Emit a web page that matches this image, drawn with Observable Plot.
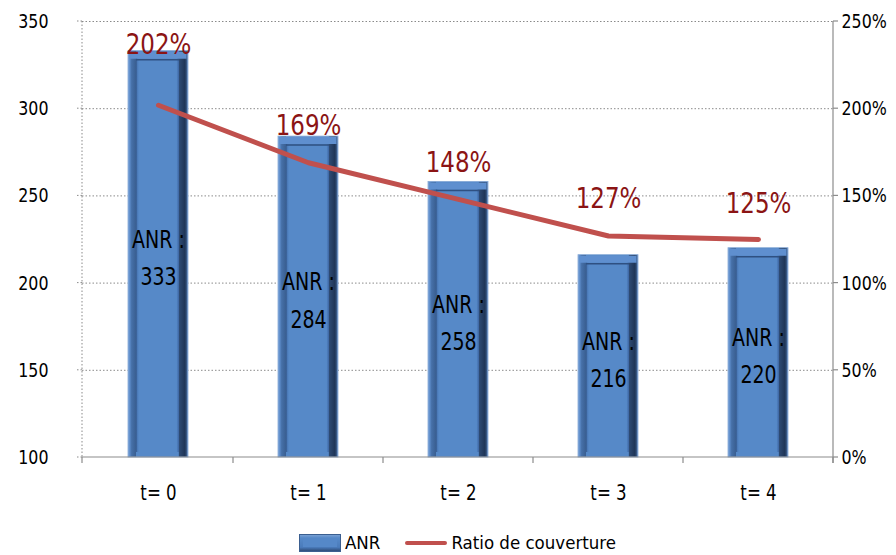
<!DOCTYPE html>
<html>
<head>
<meta charset="utf-8">
<script src="https://cdn.jsdelivr.net/npm/d3@7"></script>
<script src="https://cdn.jsdelivr.net/npm/@observablehq/plot@0.6"></script>
<style>
  html, body { margin: 0; padding: 0; background: #fff; }
  #chart { width: 896px; }
  .narrow { font-family: "DejaVu Sans Condensed", "DejaVu Sans", sans-serif; }
  #legend {
    display: flex; justify-content: center; align-items: center;
    box-sizing: border-box; height: 35px; padding: 10px 63px 0 82px;
    font-size: 18.5px; color: #000;
  }
  #legend .item { display: flex; align-items: center; }
  #legend svg { display: block; }
</style>
</head>
<body>
<div id="chart" class="narrow"></div>
<script>
// Periods, ANR values (left axis) and coverage ratio in % (right axis)
const categories = ["t= 0", "t= 1", "t= 2", "t= 3", "t= 4"];
const anrValues = [333, 284, 258, 216, 220];
const ratioValues = [202, 169, 148, 127, 125];
const leftTicks = [100, 150, 200, 250, 300, 350];
const rightTicks = [0, 50, 100, 150, 200, 250];

const FONT = '"DejaVu Sans Condensed", "DejaVu Sans", sans-serif';
const TEXT_SQUEEZE = 0.88; // horizontal compression of every chart label
const ANR_MIN = 100;
// right axis: 0% sits at 100 and 250% at 350 on the ANR scale
const ratioToAnr = p => ANR_MIN + p;

const rows = categories.map((t, i) => ({t, anr: anrValues[i], ratio: ratioValues[i]}));

// vertical lift of each percentage label above its line point (px)
const pctLift = [-61, -37, -37, -37, -36];

// axis lines, dotted left spine and category boundary ticks
function frameLines(index, scales, values, dims) {
  const {marginLeft, marginRight, width} = dims;
  const x0 = marginLeft, x1 = width - marginRight;
  const yb = scales.y(ANR_MIN), yt = scales.y(350);
  const starts = categories.map(c => scales.x(c));
  const step = starts[1] - starts[0];
  const bwRaw = scales.x.bandwidth;
  const bw = typeof bwRaw === "function" ? bwRaw() : (bwRaw ?? step * 0.4);
  const centers = starts.map(s => s + bw / 2);
  const bounds = [x0, ...centers.slice(1).map((c, i) => (c + centers[i]) / 2), x1];
  const g = d3.create("svg:g");
  g.append("line").attr("x1", x0).attr("x2", x0).attr("y1", yt).attr("y2", yb)
    .attr("stroke", "#8a8a8a").attr("stroke-dasharray", "1.5,2");
  for (const v of leftTicks) {
    g.append("line").attr("x1", x0 - 5).attr("x2", x0).attr("y1", scales.y(v)).attr("y2", scales.y(v))
      .attr("stroke", "#8a8a8a").attr("stroke-dasharray", "1.5,2");
  }
  g.append("line").attr("x1", x0).attr("x2", x1).attr("y1", yb).attr("y2", yb)
    .attr("stroke", "#8c8c8c").attr("stroke-width", 1.2);
  for (const b of bounds) {
    g.append("line").attr("x1", b).attr("x2", b).attr("y1", yb).attr("y2", yb + 6)
      .attr("stroke", "#8c8c8c").attr("stroke-width", 1.2);
  }
  g.append("line").attr("x1", x1).attr("x2", x1).attr("y1", yt).attr("y2", yb + 6)
    .attr("stroke", "#8c8c8c").attr("stroke-width", 1.2);
  for (const p of rightTicks) {
    const y = scales.y(ratioToAnr(p));
    g.append("line").attr("x1", x1).attr("x2", x1 + 5).attr("y1", y).attr("y2", y)
      .attr("stroke", "#8c8c8c").attr("stroke-width", 1.2);
  }
  return g.node();
}

const plot = Plot.plot({
  width: 896,
  height: 520,
  marginTop: 21,
  marginBottom: 63,
  marginLeft: 82,
  marginRight: 63,
  style: {fontFamily: FONT, background: "#fff", overflow: "visible"},
  x: {domain: categories, paddingInner: 0.6, paddingOuter: 0.3},
  y: {domain: [ANR_MIN, 350]},
  marks: [
    // dotted horizontal gridlines
    Plot.ruleY(leftTicks.slice(1), {stroke: "#8a8a8a", strokeDasharray: "1.5,2", strokeWidth: 1}),
    // bars: bevelled shell, lighter top bevel, then the face
    Plot.barY(rows, {x: "t", y1: () => ANR_MIN, y2: "anr", fill: "url(#barShell)", stroke: "#86a9d6", strokeWidth: 0.8}),
    Plot.tickY(rows, {x: "t", y: "anr", dy: 4, strokeWidth: 7, stroke: "#5f8fcf", insetLeft: 1.5, insetRight: 1.5}),
    Plot.barY(rows, {x: "t", y1: () => ANR_MIN, y2: "anr", insetLeft: 8, insetRight: 9, insetTop: 8, insetBottom: 5, fill: "url(#barFace)"}),
    Plot.tickY(rows, {x: "t", y: "anr", dy: 8.5, strokeWidth: 1.5, stroke: "#2f5081", insetLeft: 8, insetRight: 9}),
    frameLines,
    // coverage ratio line
    Plot.line(rows, {x: "t", y: d => ratioToAnr(d.ratio), stroke: "#C0504D", strokeWidth: 5, strokeLinecap: "round", strokeLinejoin: "round"}),
    // ANR value labels inside the bars
    Plot.text(rows, {x: "t", y: d => (ANR_MIN + d.anr) / 2, text: d => `ANR :\n${d.anr}`, lineHeight: 1.55, fontSize: 24, fill: "#000"}),
    // percentage labels
    ...rows.map((r, i) => Plot.text([r], {x: "t", y: d => ratioToAnr(d.ratio), text: d => `${d.ratio}%`, fontSize: 29, fill: "#8B1414", dy: pctLift[i]})),
    // axes
    Plot.axisY(leftTicks, {anchor: "left", label: null, tickSize: 0, tickPadding: 34, fontSize: 20, fill: "#000"}),
    Plot.axisY(rightTicks.map(ratioToAnr), {anchor: "right", label: null, tickSize: 0, tickPadding: 8, fontSize: 20, fill: "#000", tickFormat: d => `${d - ANR_MIN}%`}),
    Plot.axisX({label: null, tickSize: 0, tickPadding: 28, fontSize: 21, fill: "#000"})
  ]
});

// squeeze every label horizontally around its own anchor
plot.querySelectorAll("text").forEach(t => {
  const tr = t.getAttribute("transform");
  if (tr) {
    t.setAttribute("transform", `${tr} scale(${TEXT_SQUEEZE},1)`);
  } else {
    const x = +t.getAttribute("x") || 0, y = +t.getAttribute("y") || 0;
    t.removeAttribute("x");
    t.removeAttribute("y");
    t.setAttribute("transform", `translate(${x},${y}) scale(${TEXT_SQUEEZE},1)`);
  }
});

// gradients used by the bars
const defs = d3.select(plot).insert("defs", ":first-child");
const shell = defs.append("linearGradient").attr("id", "barShell").attr("x1", 0).attr("x2", 1).attr("y1", 0).attr("y2", 0);
[[0, "#80a6d8"], [0.03, "#5d8cca"], [0.06, "#4670a8"], [0.13, "#3a5f92"], [0.14, "#5689c8"],
 [0.84, "#5689c8"], [0.85, "#2e4b75"], [0.95, "#1f3556"], [0.98, "#3b5c8a"], [1, "#7a9fcf"]]
  .forEach(([o, c]) => shell.append("stop").attr("offset", o).attr("stop-color", c));
const face = defs.append("linearGradient").attr("id", "barFace").attr("x1", 0).attr("x2", 1).attr("y1", 0).attr("y2", 0);
[[0, "#34578a"], [0.04, "#4f80c0"], [0.08, "#5689c8"], [0.94, "#5689c8"], [1, "#3c64a0"]]
  .forEach(([o, c]) => face.append("stop").attr("offset", o).attr("stop-color", c));

document.getElementById("chart").appendChild(plot);

// legend below the plot
const legend = d3.select("body").append("div").attr("id", "legend").attr("class", "narrow");
const item1 = legend.append("div").attr("class", "item");
const sw1 = item1.append("svg").attr("width", 42).attr("height", 18);
const g1 = sw1.append("defs").append("linearGradient").attr("id", "legShell").attr("x1", 0).attr("x2", 0).attr("y1", 0).attr("y2", 1);
[[0, "#7ea4d6"], [0.2, "#5689c8"], [0.75, "#4a7bbb"], [1, "#2b4770"]]
  .forEach(([o, c]) => g1.append("stop").attr("offset", o).attr("stop-color", c));
sw1.append("rect").attr("x", 0.5).attr("y", 0.5).attr("width", 41).attr("height", 17).attr("fill", "url(#legShell)").attr("stroke", "#3b5f90");
sw1.append("rect").attr("x", 4).attr("y", 4).attr("width", 34).attr("height", 9).attr("fill", "#5588c8");
item1.append("span").style("margin-left", "4px").text("ANR");
const item2 = legend.append("div").attr("class", "item").style("margin-left", "25px");
const sw2 = item2.append("svg").attr("width", 42).attr("height", 8);
sw2.append("line").attr("x1", 2).attr("x2", 40).attr("y1", 4).attr("y2", 4)
  .attr("stroke", "#C0504D").attr("stroke-width", 4).attr("stroke-linecap", "round");
item2.append("span").style("margin-left", "4px").text("Ratio de couverture");
</script>
</body>
</html>
